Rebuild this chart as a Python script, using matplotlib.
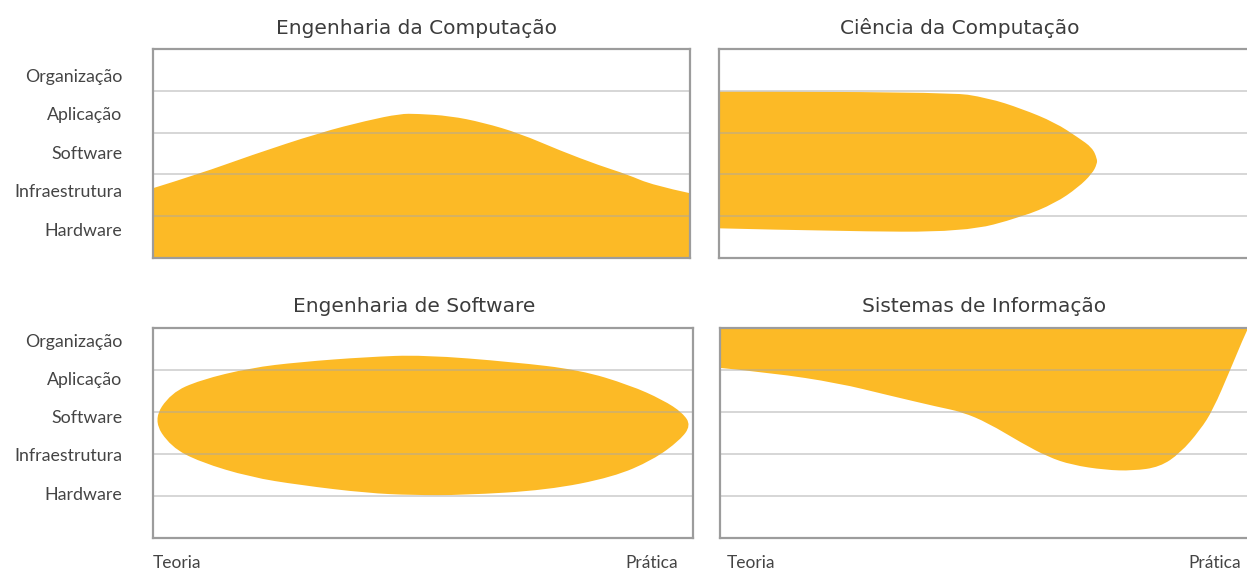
import matplotlib
matplotlib.use("Agg")
import matplotlib.pyplot as plt
from matplotlib.path import Path
from matplotlib.patches import PathPatch
import numpy as np

# levels on the y axis (bottom -> top)
levels = ["Hardware", "Infraestrutura", "Software", "Aplicação", "Organização"]
x_labels = ["Teoria", "Prática"]
titles = ["Engenharia da Computação", "Ciência da Computação",
          "Engenharia de Software", "Sistemas de Informação"]

# Engenharia da Computação: area under the curve
eng_comp_x = [0, 8.8, 18.1, 31.1, 39.9, 46.0, 49.2, 55.3, 61.5, 68.3, 75.8, 83.2, 88.3, 93.1, 100]
eng_comp_y = [1.67, 2.02, 2.45, 3.0, 3.29, 3.45, 3.45, 3.40, 3.24, 2.98, 2.57, 2.21, 2.0, 1.74, 1.55]

# Ciência da Computação: outline (upper edge, then lower edge back)
cc_upper_x = [0, 42.6, 50.1, 56.4, 62.6, 66.9, 69.5, 70.4]
cc_upper_y = [3.98, 3.98, 3.83, 3.57, 3.24, 2.88, 2.64, 2.38]
cc_lower_x = [70.4, 69.5, 66.9, 62.6, 56.4, 45.8, 22.2, 0]
cc_lower_y = [2.25, 2.02, 1.69, 1.31, 0.98, 0.62, 0.64, 0.71]

# Engenharia de Software: closed outline
es_upper_x = [0, 3.3, 8.7, 18.0, 27.2, 39.6, 50.0, 66.7, 79.1, 88.3, 94.4, 98.1, 99.6]
es_upper_y = [2.81, 3.45, 3.76, 4.05, 4.19, 4.31, 4.36, 4.19, 4.0, 3.64, 3.29, 2.98, 2.68]
es_lower_x = [97.6, 92.6, 85.2, 73.0, 57.4, 48.1, 39.6, 27.2, 18.0, 8.7, 3.3]
es_lower_y = [2.33, 1.86, 1.45, 1.14, 1.02, 1.02, 1.07, 1.26, 1.45, 1.81, 2.17]

# Sistemas de Informação: area above the curve
si_x = [0, 9.7, 22.0, 31.3, 40.6, 45.1, 49.9, 56.2, 61.1, 65.5, 71.7, 76.9, 81.9, 85.7, 89.4, 91.8, 95.0, 98.1, 98.4]
si_y = [4.05, 3.93, 3.69, 3.40, 3.12, 3.0, 2.74, 2.26, 1.93, 1.74, 1.62, 1.60, 1.69, 2.02, 2.57, 3.05, 4.0, 4.95, 5.0]

FILL = "#FCBA26"
FRAME = "#9c9c9c"
GRID = "#a8a8a8"
TXT = "#3c3c3c"
LBL = "#444444"

W, H = 1247, 570
fig = plt.figure(figsize=(W / 100, H / 100), dpi=100)
fig.patch.set_facecolor("white")


def px_axes(left, top, right, bottom):
    return fig.add_axes([left / W, 1 - bottom / H, (right - left) / W, (bottom - top) / H])


def mid(p, q):
    return ((p[0] + q[0]) / 2, (p[1] + q[1]) / 2)


def open_curve(xs, ys, extra=()):
    # quadratic bezier from first to last point, inner points are controls;
    # extra points are joined with straight lines and the shape is closed
    pts = list(zip(xs, ys))
    n = len(pts)
    verts, codes = [pts[0]], [Path.MOVETO]
    for i in range(1, n - 1):
        end = pts[i + 1] if i == n - 2 else mid(pts[i], pts[i + 1])
        verts += [pts[i], end]
        codes += [Path.CURVE3, Path.CURVE3]
    for p in extra:
        verts.append(p)
        codes.append(Path.LINETO)
    verts.append(pts[0])
    codes.append(Path.CLOSEPOLY)
    return Path(verts, codes)


def closed_curve(xs, ys):
    pts = list(zip(xs, ys))
    n = len(pts)
    verts, codes = [mid(pts[-1], pts[0])], [Path.MOVETO]
    for i in range(n):
        verts += [pts[i], mid(pts[i], pts[(i + 1) % n])]
        codes += [Path.CURVE3, Path.CURVE3]
    verts.append(verts[0])
    codes.append(Path.CLOSEPOLY)
    return Path(verts, codes)


def add_shape(ax, path):
    ax.add_patch(PathPatch(path, facecolor=FILL, lw=0, zorder=2))


ax_tl = px_axes(153, 49, 690, 258)
ax_tr = px_axes(719, 49, 1256, 258)
ax_bl = px_axes(153, 328, 693, 538)
ax_br = px_axes(720, 328, 1257, 538)

for ax in (ax_tl, ax_tr, ax_bl, ax_br):
    ax.set_xlim(0, 100)
    ax.set_ylim(0, 5)
    ax.set_xticks([])
    for k in range(1, 5):
        ax.axhline(k, color=GRID, lw=1.2, alpha=0.55, zorder=3)
    for s in ax.spines.values():
        s.set_color(FRAME)
        s.set_linewidth(1.6)
        s.set_zorder(4)
    ax.tick_params(axis="y", length=0, pad=22, labelsize=12.8, labelcolor=LBL)

add_shape(ax_tl, open_curve(eng_comp_x, eng_comp_y, extra=[(100, 0), (0, 0)]))
add_shape(ax_tr, open_curve(cc_upper_x + cc_lower_x, cc_upper_y + cc_lower_y))
add_shape(ax_bl, closed_curve(es_upper_x + es_lower_x, es_upper_y + es_lower_y))
add_shape(ax_br, open_curve(si_x, si_y, extra=[(0, 5)]))

# y labels only on the left panels
ax_tl.set_yticks(np.arange(5) * 0.92 + 0.69)
ax_tl.set_yticklabels(levels, family="Lato")
ax_bl.set_yticks(np.arange(5) * 0.91 + 1.07)
ax_bl.set_yticklabels(levels, family="Lato")
ax_tr.set_yticks([])
ax_br.set_yticks([])

# titles
title_pos = [(416, 28), (960, 28), (414, 307), (984, 307)]
for t, (cx, cy) in zip(titles, title_pos):
    fig.text(cx / W, 1 - cy / H, t, ha="center", va="center", fontsize=14.5,
             color=TXT, family="DejaVu Sans")

# Teoria / Prática under the bottom panels
for left, right in ((153, 678), (727, 1241)):
    fig.text(left / W, 1 - 563 / H, x_labels[0], ha="left", va="center",
             fontsize=12.5, color=LBL, family="Lato")
    fig.text(right / W, 1 - 563 / H, x_labels[1], ha="right", va="center",
             fontsize=12.5, color=LBL, family="Lato")

fig.savefig("out.png", dpi=100, facecolor="white")
